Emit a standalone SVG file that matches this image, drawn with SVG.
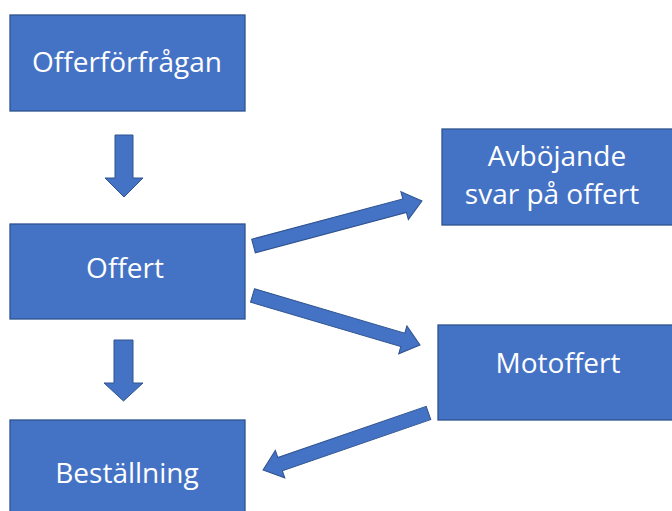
<svg xmlns="http://www.w3.org/2000/svg" width="672" height="511" viewBox="0 0 672 511">
<style>
.box{fill:#4472C4;stroke:#2F528F;stroke-width:1.3}
.arr{fill:#4472C4;stroke:#2F528F;stroke-width:1}
text{font-family:"Open Sans","Noto Sans",sans-serif;font-size:28px;fill:#FFFFFF;text-anchor:middle}
</style>
<rect width="672" height="511" fill="#FFFFFF"/>
<g id="connectors">
<polygon class="arr" points="115,135 133,135 133,178 143,178 124,197 105,178 115,178"/>
<polygon class="arr" points="114,340 133,340 133,383 143,383 123.5,401 104,383 114,383"/>
<polygon class="arr" transform="translate(253.5,246) rotate(-14.95)" points="0,-7 156.4,-7 156.4,-14.5 174.4,0 156.4,14.5 156.4,7 0,7"/>
<polygon class="arr" transform="translate(252.5,295.5) rotate(16.46)" points="0,-7 156.7,-7 156.7,-14.5 174.7,0 156.7,14.5 156.7,7 0,7"/>
<polygon class="arr" transform="translate(428.5,413) rotate(161)" points="0,-7 157,-7 157,-14.5 175,0 157,14.5 157,7 0,7"/>
</g>
<g id="n1"><rect class="box" x="10" y="15" width="235" height="96"/><text x="127" y="72">Offerförfrågan</text></g>
<g id="n2"><rect class="box" x="10" y="224" width="235" height="95"/><text x="125" y="278">Offert</text></g>
<g id="n3"><rect class="box" x="10" y="420" width="235" height="100"/><text x="127" y="483">Beställning</text></g>
<g id="n4"><rect class="box" x="442" y="129" width="240" height="96"/><text x="557" y="166">Avböjande</text><text x="552" y="204">svar på offert</text></g>
<g id="n5"><rect class="box" x="438" y="325" width="244" height="95"/><text x="558" y="373">Motoffert</text></g>
</svg>
